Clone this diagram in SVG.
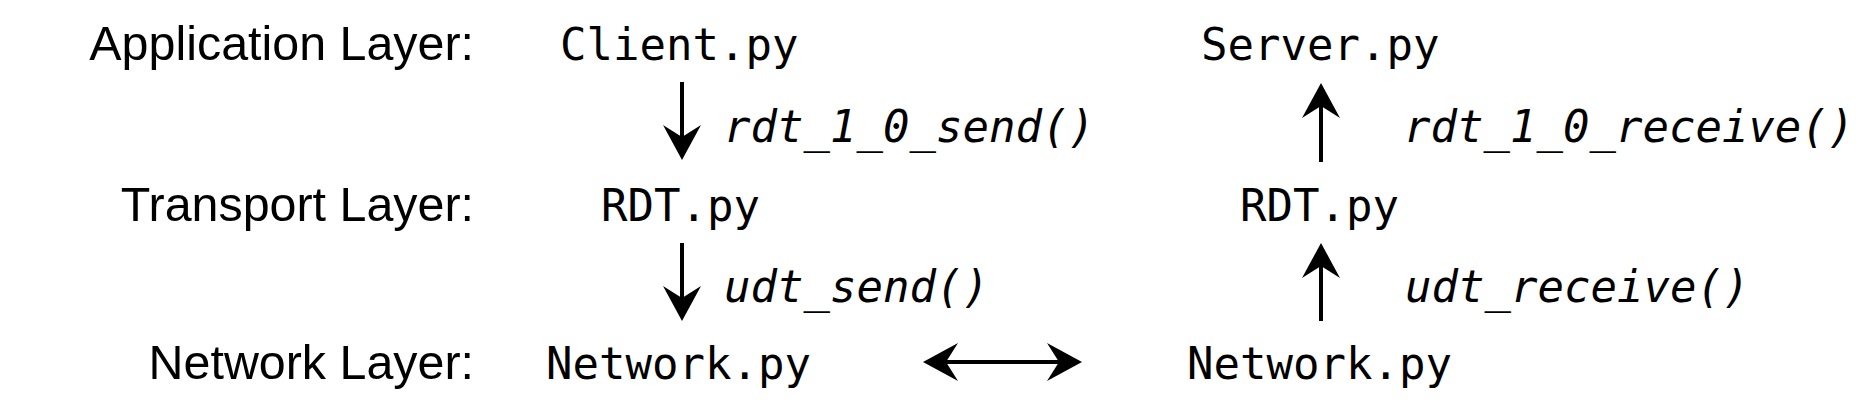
<svg xmlns="http://www.w3.org/2000/svg" width="1860" height="404" viewBox="0 0 1860 404">
<defs>
<style>
.layer{font-family:"Liberation Sans",Arial,sans-serif;font-size:48.4px;fill:#000;text-anchor:end}
.mono{font-family:"DejaVu Sans Mono",monospace;font-size:44px;fill:#000}
.fn{font-family:"DejaVu Sans Mono",monospace;font-size:44px;font-style:italic;fill:#000}
.conn{stroke:#000;stroke-width:4;fill:none}
</style>
<marker id="head" markerUnits="userSpaceOnUse" viewBox="0 0 37 38" markerWidth="37" markerHeight="38" refX="13" refY="19" orient="auto-start-reverse">
<path d="M36,19 L1,0 L13,19 L1,38 Z" fill="#000"/>
</marker>
</defs>
<rect width="1860" height="404" fill="#fff"/>
<g id="layer-labels">
<text class="layer" x="474" y="60">Application Layer:</text>
<text class="layer" x="474" y="221">Transport Layer:</text>
<text class="layer" x="474" y="379">Network Layer:</text>
</g>
<g id="client"><text class="mono" x="560" y="60">Client.py</text></g>
<g id="server"><text class="mono" x="1201" y="60">Server.py</text></g>
<g id="rdt-client"><text class="mono" x="601" y="221">RDT.py</text></g>
<g id="rdt-server"><text class="mono" x="1240" y="221">RDT.py</text></g>
<g id="network-client"><text class="mono" x="546" y="379">Network.py</text></g>
<g id="network-server"><text class="mono" x="1187" y="379">Network.py</text></g>
<g id="connectors">
<line class="conn" x1="682" y1="82" x2="682" y2="137" marker-end="url(#head)"/>
<line class="conn" x1="1321" y1="162" x2="1321" y2="106" marker-end="url(#head)"/>
<line class="conn" x1="682" y1="243" x2="682" y2="298" marker-end="url(#head)"/>
<line class="conn" x1="1321" y1="321" x2="1321" y2="266" marker-end="url(#head)"/>
<line class="conn" x1="946" y1="362" x2="1059" y2="362" marker-start="url(#head)" marker-end="url(#head)"/>
<text class="fn" x="724" y="142">rdt_1_0_send()</text>
<text class="fn" x="1404" y="142">rdt_1_0_receive()</text>
<text class="fn" x="724" y="302">udt_send()</text>
<text class="fn" x="1405" y="302">udt_receive()</text>
</g>
</svg>
